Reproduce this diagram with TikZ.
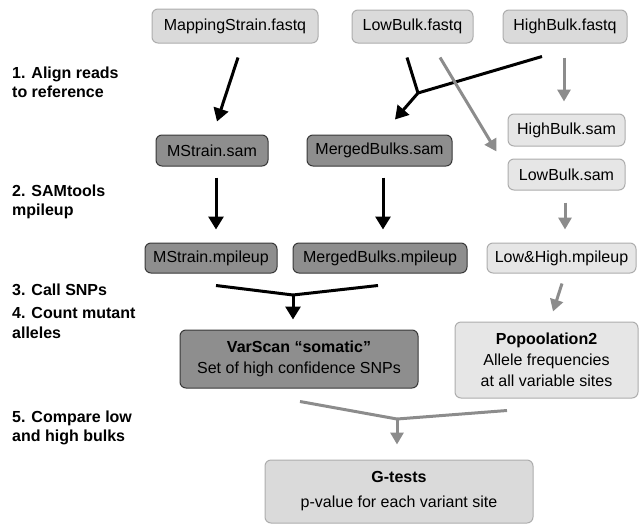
\documentclass[tikz,border=0pt]{standalone}
\usepackage{fontspec}
\setmainfont{Liberation Sans}
\usetikzlibrary{arrows.meta}

\definecolor{filelite}{HTML}{DADADA}
\definecolor{filepale}{HTML}{E6E6E6}
\definecolor{filedark}{HTML}{8E8E8E}
\definecolor{edgelite}{HTML}{ADADAD}
\definecolor{edgedark}{HTML}{383838}
\definecolor{flowgray}{HTML}{8C8C8C}

\tikzset{
  filebox/.style={rounded corners=6pt, line width=1pt, minimum height=31pt,
    inner sep=0pt, align=center, font=\fontsize{16}{21}\selectfont},
  litebox/.style={filebox, fill=filelite, draw=edgelite},
  palebox/.style={filebox, fill=filepale, draw=edgelite},
  darkbox/.style={filebox, fill=filedark, draw=edgedark},
  steplabel/.style={anchor=base west, align=left, inner sep=0pt,
    font=\fontsize{16}{19}\selectfont\bfseries},
  blkline/.style={line width=3pt, black},
  blkarrow/.style={blkline, -{Triangle[length=13pt,width=15pt]}},
  gryline/.style={line width=3pt, flowgray},
  gryarrow/.style={gryline, -{Triangle[length=12pt,width=13pt]}}
}

\begin{document}
\begin{tikzpicture}[x=1pt, y=-1pt]
    \useasboundingbox (0,0) rectangle (639,525);

    % Stage labels (placed by the baseline of their last line)
    \node[steplabel] (stepalign) at (12,97) {1. Align reads\\to reference};
    \node[steplabel] (stepsam) at (12,215) {2. SAMtools\\mpileup};
    \node[steplabel] (stepcall) at (12,295) {3. Call SNPs};
    \node[steplabel, font=\fontsize{16}{20}\selectfont\bfseries] (stepcount) at (12,338) {4. Count mutant\\alleles};
    \node[steplabel] (stepcomp) at (12,441) {5. Compare low\\and high bulks};

    % Reads
    \node[litebox, minimum width=166pt, minimum height=34pt] (msfq) at (235,26) {MappingStrain.fastq};
    \node[litebox, minimum width=121pt, minimum height=33pt] (lbfq) at (412.5,26.5) {LowBulk.fastq};
    \node[litebox, minimum width=124pt, minimum height=33pt] (hbfq) at (565,26.5) {HighBulk.fastq};

    % Alignments
    \node[darkbox, minimum width=112pt] (mssam) at (212,150.5) {MStrain.sam};
    \node[darkbox, minimum width=145pt] (mbsam) at (379.5,150.5) {MergedBulks.sam};
    \node[palebox, minimum width=117pt, minimum height=32pt] (hbsam) at (566.5,130) {HighBulk.sam};
    \node[palebox, minimum width=117pt] (lbsam) at (566.5,174.5) {LowBulk.sam};

    % Pileups
    \node[darkbox, minimum width=132pt, minimum height=30pt] (msmp) at (211,258) {MStrain.mpileup};
    \node[darkbox, minimum width=174pt, minimum height=30pt] (mbmp) at (380,258) {MergedBulks.mpileup};
    \node[palebox, minimum width=149pt, minimum height=30pt] (lhmp) at (561.5,258) {Low\&High.mpileup};

    % SNP calling
    \node[darkbox, minimum width=238pt, minimum height=58pt] (varscan) at (299,359)
        {\textbf{VarScan “somatic”}\\Set of high confidence SNPs};
    \node[palebox, minimum width=183pt, minimum height=76pt] (popo) at (546.5,360)
        {\textbf{Popoolation2}\\Allele frequencies\\at all variable sites};

    % Test
    \node[litebox, minimum width=268pt, minimum height=63pt, font=\fontsize{16}{25}\selectfont] (gtest) at (399,491.5)
        {\textbf{G-tests}\\p-value for each variant site};

    % Junctions
    \coordinate (mergejoin) at (418,93);
    \coordinate (snpjoin) at (293,295);
    \coordinate (testjoin) at (397,419);

    % Mapping strain branch
    \draw[blkarrow] ([shift={(3,14)}]msfq.south) -- ([shift={(5,-13)}]mssam.north);
    \draw[blkarrow] ([shift={(4,11)}]mssam.south) -- ([shift={(5,-13)}]msmp.north);

    % Merged bulks branch
    \draw[blkline] ([shift={(-5.5,14)}]lbfq.south) -- (mergejoin);
    \draw[blkline] ([shift={(-23,13)}]hbfq.south) -- (mergejoin);
    \draw[blkarrow] (mergejoin) -- ([shift={(15.5,-15)}]mbsam.north);
    \draw[blkarrow] ([shift={(3.5,11)}]mbsam.south) -- ([shift={(3,-13)}]mbmp.north);

    % Separate bulks branch
    \draw[gryarrow] ([shift={(27.5,14)}]lbfq.south) -- ([shift={(-11,-7)}]lbsam.north west);
    \draw[gryarrow] ([shift={(-1,14)}]hbfq.south) -- ([shift={(-2.5,-12)}]hbsam.north);
    \draw[gryarrow] ([shift={(-1.5,12)}]lbsam.south) -- ([shift={(3.5,-13)}]lhmp.north);
    \draw[gryarrow] ([shift={(0.5,10)}]lhmp.south) -- ([shift={(6.5,-10)}]popo.north);

    % SNP calls
    \draw[blkline] ([shift={(5,12)}]msmp.south) -- (snpjoin);
    \draw[blkline] ([shift={(-2,12)}]mbmp.south) -- (snpjoin);
    \draw[blkarrow] (snpjoin) -- ([shift={(-6,-10)}]varscan.north);

    % Comparison
    \draw[gryline] ([shift={(1,13)}]varscan.south) -- (testjoin);
    \draw[gryline] ([shift={(-39.5,12)}]popo.south) -- (testjoin);
    \draw[gryarrow] (testjoin) -- ([shift={(-2,-15)}]gtest.north);
\end{tikzpicture}
\end{document}
